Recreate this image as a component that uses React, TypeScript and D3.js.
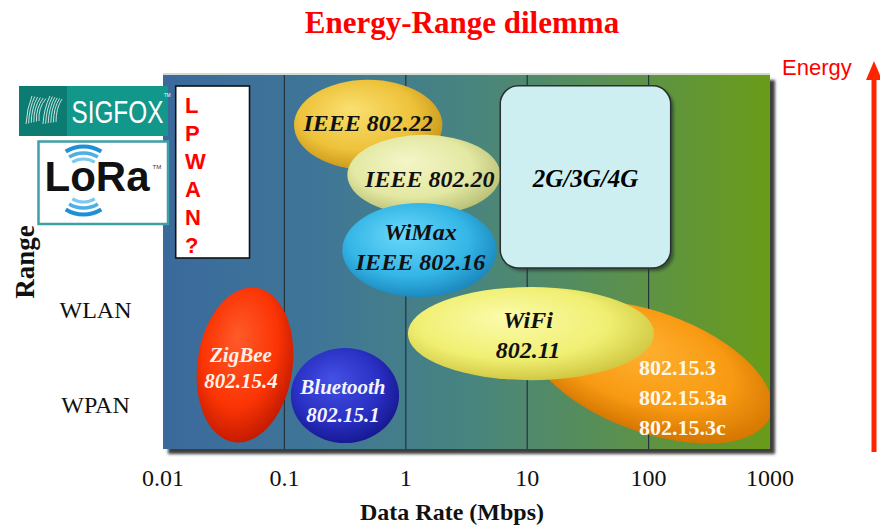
import * as d3 from 'd3';

const W = 880;
const H = 526;

// x axis: data rate in Mbps (log)
const rateTicks = [0.01, 0.1, 1, 10, 100, 1000];
const rateTickLabels = ['0.01', '0.1', '1', '10', '100', '1000'];

// y axis: range classes (arbitrary range index 0..10)
const rangeClasses = ['WLAN', 'WPAN'];
const rangeClassLevels = [3.72, 1.19];

// technologies: extents in rate (Mbps) and range index
const techs = ['IEEE 802.22', 'IEEE 802.20', 'WiMax', '802.15.3', 'WiFi', '2G/3G/4G', 'ZigBee', 'Bluetooth'];
const rateMin = [0.12, 0.33, 0.3, 9.06, 1.04, 6.0, 0.0192, 0.113];
const rateMax = [2.0, 6.0, 5.6, 1164, 111, 152, 0.1167, 0.88];
const rangeMin = [7.46, 6.26, 4.06, 0.45, 1.84, 4.84, 0.16, 0.16];
const rangeMax = [9.87, 8.4, 6.58, 3.66, 4.33, 9.71, 4.33, 2.7];
const techAngle = [0, 0, 0, 20, 0, 0, 8, 0];

const lpwanLetters = ['L', 'P', 'W', 'A', 'N', '?'];

type LabelStyle = {
  lines: string[];
  dx: number;
  dy: number;
  lh: number;
  size: number;
  fill: string;
  italic: boolean;
  bold: boolean;
  anchor: 'middle' | 'start';
};

type Shade = { hi: string; base: string; edge: string };

const shades: Record<string, Shade> = {
  'IEEE 802.22': { hi: '#f9e070', base: '#eec23a', edge: '#c8961a' },
  'IEEE 802.20': { hi: '#f4f6c8', base: '#e3e8a2', edge: '#b9c076' },
  WiMax: { hi: '#6ad8fa', base: '#34b6e6', edge: '#1a86bc' },
  '802.15.3': { hi: '#ffb234', base: '#f89a12', edge: '#d27400' },
  WiFi: { hi: '#fbfbab', base: '#f0ef72', edge: '#cfc640' },
  ZigBee: { hi: '#ff5a2a', base: '#fb3404', edge: '#c21a00' },
  Bluetooth: { hi: '#4450e4', base: '#2a30c4', edge: '#161890' },
};

const labels: Record<string, LabelStyle> = {
  'IEEE 802.22': { lines: ['IEEE 802.22'], dx: 0, dy: 6, lh: 0, size: 24, fill: '#111', italic: true, bold: true, anchor: 'middle' },
  'IEEE 802.20': { lines: ['IEEE 802.20'], dx: 6, dy: 12, lh: 0, size: 24, fill: '#111', italic: true, bold: true, anchor: 'middle' },
  WiMax: { lines: ['WiMax', 'IEEE 802.16'], dx: 1, dy: -10, lh: 30, size: 24, fill: '#111', italic: true, bold: true, anchor: 'middle' },
  '2G/3G/4G': { lines: ['2G/3G/4G'], dx: 0, dy: 10, lh: 0, size: 25, fill: '#000', italic: true, bold: true, anchor: 'middle' },
  WiFi: { lines: ['WiFi', '802.11'], dx: -3, dy: -5.5, lh: 30, size: 24, fill: '#111', italic: true, bold: true, anchor: 'middle' },
  '802.15.3': { lines: ['802.15.3', '802.15.3a', '802.15.3c'], dx: -11, dy: 3, lh: 30, size: 22, fill: '#fff8ea', italic: false, bold: true, anchor: 'start' },
  ZigBee: { lines: ['ZigBee', '802.15.4'], dx: -4, dy: -3.3, lh: 26.5, size: 21, fill: '#fff0e8', italic: true, bold: true, anchor: 'middle' },
  Bluetooth: { lines: ['Bluetooth', '802.15.1'], dx: -2, dy: -1.5, lh: 28, size: 21, fill: '#f4f4ff', italic: true, bold: true, anchor: 'middle' },
};

const SERIF = '"Liberation Serif", "Times New Roman", serif';
const SANS = '"Liberation Sans", Arial, sans-serif';

const plot = { left: 163, right: 770, top: 75, bottom: 449 };

export default function App() {
  const x = d3.scaleLog().domain([0.01, 1000]).range([plot.left, plot.right]);
  const y = d3.scaleLinear().domain([0, 10]).range([plot.bottom, plot.top]);

  const marks = techs.map((name, i) => {
    const x0 = x(rateMin[i]);
    const x1 = x(rateMax[i]);
    const y0 = y(rangeMax[i]);
    const y1 = y(rangeMin[i]);
    return { name, i, cx: (x0 + x1) / 2, cy: (y0 + y1) / 2, rx: (x1 - x0) / 2, ry: (y1 - y0) / 2, x0, x1, y0, y1, angle: techAngle[i] };
  });

  const gradId = (n: string) => 'g' + n.replace(/[^A-Za-z0-9]/g, '');

  const arc = d3.arc();
  const loraCx = 83.5;
  const loraCy = 180.5;
  const loraArcs = [
    { r: 21.5, w: 3.2, c: '#7cc8ee' },
    { r: 27.5, w: 3.4, c: '#4eafe6' },
    { r: 34, w: 4, c: '#1f90d6' },
  ];

  const renderLabel = (m: (typeof marks)[number]) => {
    const s = labels[m.name];
    return (
      <text
        key={'t' + m.name}
        x={m.cx + s.dx}
        y={m.cy + s.dy}
        textAnchor={s.anchor}
        fontFamily={SERIF}
        fontSize={s.size}
        fontStyle={s.italic ? 'italic' : 'normal'}
        fontWeight={s.bold ? 'bold' : 'normal'}
        fill={s.fill}
      >
        {s.lines.map((ln, k) => (
          <tspan key={k} x={m.cx + s.dx} y={m.cy + s.dy + k * s.lh}>
            {ln}
          </tspan>
        ))}
      </text>
    );
  };

  return (
    <svg width={W} height={H} style={{ position: 'absolute', left: 0, top: 0, background: '#fff' }}>
      <defs>
        <linearGradient id="bg" x1="0" x2="1" y1="0" y2="0">
          <stop offset="0%" stopColor="#3a6a9c" />
          <stop offset="25%" stopColor="#3f7598" />
          <stop offset="50%" stopColor="#488480" />
          <stop offset="75%" stopColor="#5a9050" />
          <stop offset="100%" stopColor="#6a9c18" />
        </linearGradient>
        {Object.entries(shades).map(([n, s]) => (
          <radialGradient key={n} id={gradId(n)} cx="45%" cy="42%" r="60%" fx="38%" fy="32%">
            <stop offset="0%" stopColor={s.hi} />
            <stop offset="65%" stopColor={s.base} />
            <stop offset="100%" stopColor={s.edge} />
          </radialGradient>
        ))}
        <filter id="blur" x="-10%" y="-10%" width="120%" height="120%">
          <feGaussianBlur stdDeviation="1.5" />
        </filter>
        <clipPath id="plotClip">
          <rect x={plot.left} y={plot.top} width={plot.right - plot.left} height={plot.bottom - plot.top} />
        </clipPath>
      </defs>

      {/* title */}
      <text x={462} y={33} textAnchor="middle" fontFamily={SERIF} fontWeight="bold" fontSize={31} fill="#ff0000">
        Energy-Range dilemma
      </text>

      {/* plot shadow and background */}
      <rect x={plot.left + 5} y={plot.top + 5} width={plot.right - plot.left} height={plot.bottom - plot.top} fill="#3c3c3c" filter="url(#blur)" />
      <rect x={plot.left} y={plot.top} width={plot.right - plot.left} height={plot.bottom - plot.top} fill="url(#bg)" />
      <line x1={plot.left} x2={plot.right} y1={plot.top - 1} y2={plot.top - 1} stroke="#d4dad0" strokeWidth={2} />

      {/* decade gridlines */}
      {rateTicks.slice(1, -1).map((t) => (
        <line key={t} x1={x(t)} x2={x(t)} y1={plot.top} y2={plot.bottom} stroke="#23343a" strokeWidth={1.2} />
      ))}

      <g clipPath="url(#plotClip)">
        {marks.map((m) => {
          if (m.name === '2G/3G/4G') {
            return (
              <g key={m.name}>
                <rect x={m.x0 + 3} y={m.y0 + 3} width={m.x1 - m.x0} height={m.y1 - m.y0} rx={18} fill="#1e2a2a" opacity={0.6} filter="url(#blur)" />
                <rect x={m.x0} y={m.y0} width={m.x1 - m.x0} height={m.y1 - m.y0} rx={18} fill="#cdeff2" stroke="#2a3030" strokeWidth={1.5} />
              </g>
            );
          }
          return (
            <ellipse
              key={m.name}
              cx={m.cx}
              cy={m.cy}
              rx={m.rx}
              ry={m.ry}
              transform={m.angle ? `rotate(${m.angle} ${m.cx} ${m.cy})` : undefined}
              fill={`url(#${gradId(m.name)})`}
            />
          );
        })}
        {marks.map(renderLabel)}
      </g>

      {/* x axis labels */}
      {rateTicks.map((t, i) => (
        <text key={t} x={x(t)} y={486} textAnchor="middle" fontFamily={SERIF} fontSize={24} fill="#111">
          {rateTickLabels[i]}
        </text>
      ))}
      <text x={452} y={520} textAnchor="middle" fontFamily={SERIF} fontWeight="bold" fontSize={24} fill="#111">
        Data Rate (Mbps)
      </text>

      {/* y axis labels */}
      {rangeClasses.map((c, i) => (
        <text key={c} x={95.5} y={y(rangeClassLevels[i]) + 8.5} textAnchor="middle" fontFamily={SERIF} fontSize={24} fill="#111">
          {c}
        </text>
      ))}
      <text transform="translate(34,262) rotate(-90)" textAnchor="middle" fontFamily={SERIF} fontWeight="bold" fontSize={27} fill="#111">
        Range
      </text>

      {/* SIGFOX logo */}
      <rect x={19} y={86} width={149} height={50} fill="#12978b" />
      <rect x={19} y={86} width={48} height={50} fill="#0c7b71" />
      <g stroke="#e6f4f2" strokeWidth={1} fill="none" opacity={0.85}>
        {d3.range(6).map((k) => (
          <path key={'a' + k} d={`M${26 + k * 2.6},${124 - k * 0.6} Q${27 + k * 2.2},${108} ${32 + k * 2.8},${96 + k * 0.5}`} />
        ))}
        {d3.range(6).map((k) => (
          <path key={'b' + k} d={`M${43 + k * 2.6},${124 - k * 0.4} Q${44 + k * 2.4},${108} ${50 + k * 2.4},${96 + k * 0.6}`} />
        ))}
      </g>
      <g transform="translate(71.5,122.5) scale(0.76,1)">
        <text x={0} y={0} fontFamily={SANS} fontSize={32} fill="#ffffff">
          SIGFOX
        </text>
      </g>
      <text x={164} y={97} fontFamily={SANS} fontSize={4.5} fill="#ffffff">TM</text>

      {/* LoRa logo */}
      <rect x={38.5} y={141.5} width={129.5} height={82.5} fill="#ffffff" stroke="#3f9fa6" strokeWidth={2.5} />
      <g transform={`translate(${loraCx},${loraCy})`}>
        {loraArcs.map((a, k) => (
          <g key={k}>
            <path d={arc({ innerRadius: a.r - a.w / 2, outerRadius: a.r + a.w / 2, startAngle: -0.55, endAngle: 0.55 }) || ''} fill={a.c} />
            <path d={arc({ innerRadius: a.r - a.w / 2, outerRadius: a.r + a.w / 2, startAngle: Math.PI - 0.55, endAngle: Math.PI + 0.55 }) || ''} fill={a.c} />
          </g>
        ))}
      </g>
      <text x={44.5} y={191} fontFamily={SANS} fontWeight="bold" fontSize={42} fill="#111">
        LoRa
      </text>
      <text x={152.5} y={169} fontFamily={SANS} fontSize={6} fill="#333">TM</text>

      {/* LPWAN? box */}
      <rect x={175.7} y={86} width={73.8} height={172} fill="#ffffff" stroke="#111" strokeWidth={1.6} />
      {lpwanLetters.map((l, i) => (
        <text key={i} x={185} y={113 + i * 28} fontFamily={SANS} fontWeight="bold" fontSize={22} fill="#ff0000">
          {l}
        </text>
      ))}

      {/* Energy arrow */}
      <text x={782} y={75} fontFamily={SANS} fontSize={22} fill="#ff0000">
        Energy
      </text>
      <line x1={874} x2={874} y1={452} y2={76} stroke="#ff2400" strokeWidth={5} />
      <polygon points="866,80 874,61 882,80" fill="#ff2400" />
    </svg>
  );
}
